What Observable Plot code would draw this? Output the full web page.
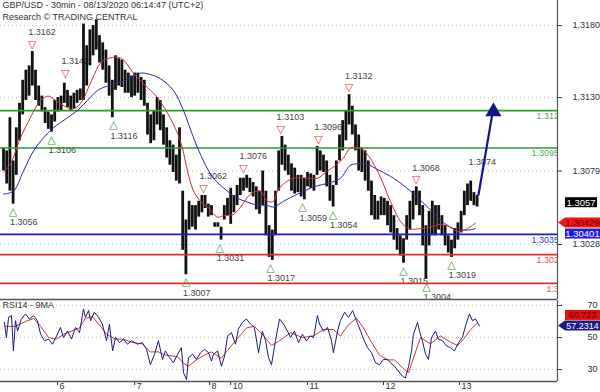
<!DOCTYPE html>
<html><head><meta charset="utf-8">
<script src="https://cdn.jsdelivr.net/npm/d3@7"></script>
<script src="https://cdn.jsdelivr.net/npm/@observablehq/plot@0.6"></script>
<style>
html,body{margin:0;padding:0;background:#fff;}
#chart{width:600px;height:392px;overflow:hidden;}
#chart svg{display:block;}
</style></head><body><div id="chart"></div>
<script>
// ---- price bars (hourly high / low, bar index from start) ----
const barHigh = [1.3095,1.3093,1.3116,1.3086,1.3109,1.3126,1.3142,1.3149,1.3152,1.3162,
1.3149,1.3138,1.3131,1.3123,1.3120,1.3118,1.3128,1.3130,1.3131,1.3140,
1.3135,1.3131,1.3133,1.3135,1.3136,1.3181,1.3166,1.3177,1.3180,1.3184,
1.3173,1.3168,1.3163,1.3152,1.3142,1.3159,1.3157,1.3156,1.3149,1.3147,
1.3145,1.3147,1.3147,1.3144,1.3142,1.3126,1.3118,1.3121,1.3130,1.3128,
1.3118,1.3109,1.3100,1.3097,1.3090,1.3109,1.3065,1.3045,1.3058,1.3055,
1.3055,1.3058,1.3062,1.3062,1.3056,1.3055,1.3043,1.3043,1.3040,1.3055,
1.3060,1.3067,1.3062,1.3069,1.3074,1.3074,1.3076,1.3074,1.3071,1.3068,
1.3065,1.3079,1.3065,1.3041,1.3038,1.3065,1.3093,1.3103,1.3097,1.3090,
1.3084,1.3081,1.3076,1.3076,1.3074,1.3078,1.3077,1.3076,1.3096,1.3093,
1.3090,1.3086,1.3076,1.3069,1.3086,1.3104,1.3114,1.3121,1.3132,1.3124,
1.3111,1.3104,1.3095,1.3093,1.3086,1.3072,1.3062,1.3058,1.3061,1.3060,
1.3058,1.3055,1.3048,1.3039,1.3034,1.3032,1.3048,1.3058,1.3065,1.3068,
1.3065,1.3055,1.3041,1.3051,1.3058,1.3055,1.3055,1.3048,1.3041,1.3034,
1.3031,1.3039,1.3043,1.3051,1.3065,1.3070,1.3072,1.3064,1.3062];
const barLow = [1.3079,1.3070,1.3065,1.3056,1.3076,1.3100,1.3118,1.3128,1.3131,1.3138,
1.3128,1.3124,1.3120,1.3112,1.3108,1.3106,1.3113,1.3120,1.3121,1.3126,
1.3123,1.3121,1.3122,1.3126,1.3128,1.3128,1.3138,1.3152,1.3159,1.3163,
1.3154,1.3149,1.3140,1.3131,1.3116,1.3135,1.3138,1.3137,1.3133,1.3133,
1.3130,1.3131,1.3133,1.3128,1.3124,1.3104,1.3098,1.3100,1.3111,1.3107,
1.3097,1.3088,1.3083,1.3078,1.3072,1.3070,1.3024,1.3007,1.3038,1.3040,
1.3038,1.3047,1.3050,1.3053,1.3047,1.3048,1.3040,1.3040,1.3031,1.3045,
1.3048,1.3042,1.3050,1.3055,1.3062,1.3065,1.3067,1.3064,1.3061,1.3052,
1.3049,1.3055,1.3034,1.3019,1.3017,1.3034,1.3065,1.3083,1.3079,1.3076,
1.3065,1.3063,1.3064,1.3061,1.3059,1.3068,1.3067,1.3065,1.3076,1.3079,
1.3078,1.3068,1.3058,1.3054,1.3069,1.3086,1.3093,1.3100,1.3111,1.3104,
1.3093,1.3079,1.3078,1.3072,1.3065,1.3048,1.3045,1.3045,1.3048,1.3048,
1.3041,1.3036,1.3031,1.3024,1.3020,1.3015,1.3031,1.3038,1.3045,1.3055,
1.3048,1.3027,1.3004,1.3027,1.3034,1.3034,1.3038,1.3034,1.3027,1.3022,
1.3019,1.3025,1.3031,1.3036,1.3048,1.3055,1.3058,1.3055,1.3054];

// ---- moving averages on price ----
const redMAIdx = [0,2.2,5.3,8.4,11.6,14.1,16.9,20,21.6,24.1,27.2,30.3,32.5,35.6,37.5,40.6,45,48.1,51.3,54.4,55.9,57.5,59.4,61.6,63.75,66.9,68.75,71.9,74.1,77.2,80.3,82.5,84.4,85.6,87.5,90.6,95,98.1,101.25,104.4,106.25,108.4,110.6,113.1,116.9,120.9,124.1,126.6,130.3,133.4,136.6,139.7,141.9,145,147.5];
const redMAVal = [1.3078,1.3084,1.3102,1.3116,1.3128,1.3131,1.3127,1.3123,1.3122,1.3126,1.3140,1.3154,1.3157,1.3158,1.3156,1.3147,1.3137,1.3130,1.3119,1.3105,1.3095,1.3079,1.3065,1.3058,1.3054,1.3047,1.3048,1.3049,1.3054,1.3063,1.3065,1.3058,1.3058,1.3065,1.3070,1.3074,1.3074,1.3074,1.3079,1.3084,1.3088,1.3095,1.3095,1.3092,1.3079,1.3058,1.3044,1.3039,1.3039,1.3040,1.3042,1.3040,1.3037,1.3039,1.3043];
const blueMAIdx = [0,3.1,6.25,9.4,12.5,15.6,20,23.1,26.25,29.4,32.5,35.6,38.1,42.8,45.9,49.1,53.1,56.25,59.4,62.5,65.6,70,73.1,75.6,78.1,82.5,84.4,87.5,91.9,96.9,102.2,105.3,108.4,110.6,113.1,117.8,121.9,127.2,132.5,136.6,140.6,145,147.5];
const blueMAVal = [1.3063,1.3065,1.3079,1.3093,1.3102,1.3109,1.3116,1.3121,1.3128,1.3135,1.3138,1.3140,1.3142,1.3147,1.3146,1.3143,1.3135,1.3121,1.3102,1.3086,1.3074,1.3065,1.3060,1.3058,1.3056,1.3055,1.3054,1.3058,1.3063,1.3068,1.3071,1.3074,1.3083,1.3084,1.3084,1.3079,1.3074,1.3065,1.3054,1.3045,1.3039,1.3038,1.3039];

// ---- pivots ----
const pivotHighIdx = [9,19.4,62.5,75,86.6,98.4,108,129];
const pivotHighVal = [1.3162,1.3142,1.3062,1.3076,1.3103,1.3096,1.3132,1.3068];
const pivotLowIdx = [3,15,34.4,57,67.6,83.4,93.4,103,125,132.2,140];
const pivotLowVal = [1.3056,1.3106,1.3116,1.3007,1.3031,1.3017,1.3059,1.3054,1.3015,1.3004,1.3019];
const targetIdx = [145.3];
const targetVal = [1.3074];

// ---- key levels ----
const levelVals = [1.3121,1.3095,1.3035,1.3021,1.3001];
const levelKinds = ["resistance","resistance","pivot","support","support"];

// ---- axis ----
const priceTicks = [1.3180,1.3130,1.3079,1.3028];
const lastPrice = 1.3057, maRedLast = 1.30429, maBlueLast = 1.30401;
const arrowFrom = [148.4, 1.3062], arrowTo = [153.1, 1.3123];

// ---- RSI ----
const rsiIdx = [0.3,0.9,1.6,2.5,3.1,3.75,4.4,5.6,6.9,8.1,9.4,10.6,11.6,12.8,14.1,15.3,16.6,17.8,18.75,20,21.25,22.5,23.75,25,25.6,26.6,27.2,28.4,29.7,30.9,32.2,33.1,34.1,35,36.25,37.5,38.75,40,41.9,43.4,44.7,45.9,47.2,48.4,49.7,50.6,51.9,53.1,54.4,55.6,56.25,57.2,57.8,59.1,60.3,61.6,62.8,64.1,65,65.6,66.9,68.1,69.1,70,71.25,72.5,73.4,74.7,75.9,77.2,78.4,79.7,80.9,81.9,82.8,83.75,85,86.25,87.5,88.75,89.7,90.9,92.2,93.4,94.7,95.9,96.9,98.1,98.75,100,101.25,102.5,103.1,104.4,105.3,106.6,107.8,109.1,110.3,111.6,112.5,113.75,115,116.25,117.5,118.75,120,120.9,122.2,123.4,124.7,125.6,126.6,127.5,128.1,129.4,130,130.9,131.9,132.8,133.75,135,135.9,137.2,138.4,139.7,140.9,142.2,143.4,144.4,145.6,146.6,147.5,148.75];
const rsiVal = [59.5,50,62.6,63.7,41.6,60.5,54,61.6,64.7,61.6,63.7,60.5,52,48,49,45.8,51,56.3,50,54,49,56.3,53,67.9,62.6,66.8,60.5,65.8,62.6,58.4,48,58.4,41.6,50,46.8,49,45.8,48,45.8,46.8,42.6,33,39.5,48,36.3,41.6,37.4,34.2,39.5,43.7,28,23.7,37.4,39.5,36.3,40.5,42.6,40.5,35.3,39.5,41.6,32,38.4,51,53,45.8,55.3,59.5,61.6,58.4,56.3,40.5,54,48,37.4,33,48,61.6,58.4,54,50,54,46.8,52,48,51,50,63.7,58.4,54,56.3,48,40.5,54,60.5,65.8,62.6,66.8,60.5,54,49,43.7,40.5,34.2,33,36.3,36.3,34.2,32,29,25.8,24.7,32,41.6,52,59.5,54,48,39.5,36.3,50,54,49,48,44.7,43.7,41.6,46.8,50,57.4,64.7,60.5,61.6,57.2];
const rsiMAIdx = [0.3,3.75,6.9,9.4,11.6,14.1,16.6,18.75,21.25,23.75,25.6,27.8,30.3,32.2,35,37.5,40,43.4,45.9,48.4,50.6,54.4,56.25,57.8,60.3,62.8,65,68.1,70,72.5,75.9,78.4,80.9,83.75,86.25,89.7,93.4,96.9,100,103.1,105.3,107.8,110.3,112.5,115,117.5,120,122.2,124.7,126.6,128.1,130.3,133.4,136.6,139.7,141.9,143.75,146,148.1];
const rsiMAVal = [57,57,60,62,57,50,49,52,54,56,62,63,57,52,49,49,47,46,41,41,39,38,34,32,36,39,41,37,42,48,56,57,52,45,48,53,50,51,55,55,51,58,62,56,47,39,36,36,31,28,37,50,46,51,47,45,49,55,59];
const rsiTicks = [70,50,30];
const rsiLast = 57.2314, rsiMALast = 60.723;

// ---- days ----
const dayIdx = [16.9,41,64.4,71,95,118.75,142.5];
const dayLabels = ["6","7","8","10","11","12","13"];

// ================= build =================
const xDomain = [-0.9375, 173.125];
const yDomain = [1.29898, 1.31974];
const rsiDomain = [22.5, 73.125];
const FONT = "'Liberation Sans', Arial, sans-serif";
const NAVY = "#15158a";

const bars = barHigh.map((h, k) => ({i: k, high: h, low: barLow[k]}));
const redMA = redMAIdx.map((i, k) => ({i, v: redMAVal[k]}));
const blueMA = blueMAIdx.map((i, k) => ({i, v: blueMAVal[k]}));
const pivHigh = pivotHighIdx.map((i, k) => ({i, v: pivotHighVal[k]}));
const pivLow = pivotLowIdx.map((i, k) => ({i, v: pivotLowVal[k]}));
const target = targetIdx.map((i, k) => ({i, v: targetVal[k]}));
const levels = levelVals.map((v, k) => ({v, kind: levelKinds[k]}));
const rsi = rsiIdx.map((i, k) => ({i, v: rsiVal[k]}));
const rsiMA = rsiMAIdx.map((i, k) => ({i, v: rsiMAVal[k]}));
const days = dayIdx.map((i, k) => ({i, label: dayLabels[k]}));
const arrowData = [{x1: arrowFrom[0], y1: arrowFrom[1], x2: arrowTo[0], y2: arrowTo[1]}];

const lineColor = {resistance: "#2e9a2e", pivot: "#1c1cd0", support: "#e42a2a"};
const labelColor = {resistance: "#55a855", pivot: "#3a3ad0", support: "#e05050"};
const labelShift = [-21, -26, -26, -21, -11];

const levelLabelMarks = levels.map((d, k) => Plot.text([d], {
  y: "v", text: x => x.v.toFixed(4), frameAnchor: "right", dx: labelShift[k],
  textAnchor: "start", lineAnchor: "top", dy: 2, fill: labelColor[d.kind], clip: true, fontSize: 9
}));

const main = Plot.plot({
  width: 600, height: 300, marginLeft: 0, marginRight: 43, marginTop: 0, marginBottom: 1,
  style: {fontFamily: FONT, fontSize: "9px", color: "#333", background: "#fff", overflow: "visible"},
  x: {domain: xDomain, axis: null},
  y: {domain: yDomain, axis: "right", ticks: priceTicks, tickFormat: d => d.toFixed(4), tickSize: 4, tickPadding: 11, label: null},
  marks: [
    Plot.ruleY(priceTicks, {stroke: "#bbb", strokeDasharray: "1,3"}),
    Plot.text(pivHigh, {x: "i", y: "v", text: d => d.v.toFixed(4), dx: -4, dy: -19, textAnchor: "start", fill: "#444", fontSize: 9}),
    Plot.text(pivLow, {x: "i", y: "v", text: d => d.v.toFixed(4), dx: -3, dy: 18, textAnchor: "start", fill: "#444", fontSize: 9}),
    Plot.text(target, {x: "i", y: "v", text: d => d.v.toFixed(4), dx: 0, dy: -16, textAnchor: "start", fill: "#444", fontSize: 9}),
    Plot.ruleX(bars, {x: "i", y1: "low", y2: "high", stroke: "#111", strokeWidth: 2.8}),
    Plot.ruleY(levels, {y: "v", stroke: d => lineColor[d.kind], strokeWidth: 1.7}),
    ...levelLabelMarks,
    Plot.line(blueMA, {x: "i", y: "v", stroke: "#2c2ca0", strokeWidth: 1, curve: "catmull-rom"}),
    Plot.line(redMA, {x: "i", y: "v", stroke: "#cc3030", strokeWidth: 1, curve: "catmull-rom"}),
    Plot.text(pivHigh, {x: "i", y: "v", text: () => "\u25BD", dy: -7, fill: "#e03c3c", fontSize: 11, fontFamily: "DejaVu Sans"}),
    Plot.text(pivLow, {x: "i", y: "v", text: () => "\u25B3", dy: 7, fill: "#2e9a2e", fontSize: 11, fontFamily: "DejaVu Sans"}),
    Plot.link(arrowData, {x1: "x1", y1: "y1", x2: "x2", y2: "y2", stroke: NAVY, strokeWidth: 2.2}),
    Plot.dot(arrowData, {x: "x2", y: "y2", symbol: "triangle", r: 5, fill: NAVY, stroke: NAVY, dy: 4}),
    Plot.text(["GBP/USD - 30min - 08/13/2020 06:14:47 (UTC+2)"], {text: d => d, frameAnchor: "top-left", dx: 2, dy: 1, lineAnchor: "top", textAnchor: "start", fill: "#333", fontSize: 9}),
    Plot.text(["Research \u00A9 TRADING CENTRAL"], {text: d => d, frameAnchor: "top-left", dx: 2, dy: 13, lineAnchor: "top", textAnchor: "start", fill: "#333", fontSize: 9}),
    Plot.ruleY([yDomain[0]], {stroke: "#555", strokeWidth: 1.5}),
    Plot.ruleX([xDomain[1]], {stroke: "#555", strokeWidth: 1.2})
  ]
});

const rsiPlot = Plot.plot({
  width: 600, height: 92, marginLeft: 0, marginRight: 43, marginTop: 0, marginBottom: 11,
  style: {fontFamily: FONT, fontSize: "9px", color: "#333", background: "#fff", overflow: "visible"},
  x: {domain: xDomain, axis: "bottom", ticks: dayIdx, tickFormat: () => "", tickSize: 4, tickPadding: 0, label: null},
  y: {domain: rsiDomain, axis: "right", ticks: rsiTicks, tickSize: 4, tickPadding: 26, label: null},
  marks: [
    Plot.ruleY(rsiTicks, {stroke: "#bbb", strokeDasharray: "1,3"}),
    Plot.line(rsiMA, {x: "i", y: "v", stroke: "#c83a3a", strokeWidth: 1}),
    Plot.line(rsi, {x: "i", y: "v", stroke: "#1c1c7c", strokeWidth: 1}),
    Plot.text(["RSI14 - 9MA"], {text: d => d, frameAnchor: "top-left", dx: 2, dy: 1, lineAnchor: "top", textAnchor: "start", fill: "#333", fontSize: 9}),
    Plot.text(days, {x: "i", text: "label", frameAnchor: "bottom", dy: 7, dx: 2, textAnchor: "start", fill: "#333", fontSize: 9}),
    Plot.ruleY([rsiDomain[0]], {stroke: "#555", strokeWidth: 1.5}),
    Plot.ruleX([xDomain[1]], {stroke: "#555", strokeWidth: 1.2})
  ]
});

function svgOf(el) { return el.tagName.toLowerCase() === "svg" ? el : el.querySelector("svg"); }

function addBoxes(plotEl, boxes, dir, gap, fontSize) {
  const svg = d3.select(svgOf(plotEl));
  const ys = plotEl.scale("y"), xs = plotEl.scale("x");
  const yS = d3.scaleLinear(ys.domain, ys.range);
  const xS = d3.scaleLinear(xs.domain, xs.range);
  const xr = xS(xDomain[1]);
  const items = boxes.map(b => ({...b, y: yS(b.value)})).sort((a, b) => a.y - b.y);
  if (dir === "down") {
    for (let k = 1; k < items.length; k++) if (items[k].y < items[k-1].y + gap) items[k].y = items[k-1].y + gap;
  } else {
    for (let k = items.length - 2; k >= 0; k--) if (items[k].y > items[k+1].y - gap) items[k].y = items[k+1].y - gap;
  }
  const g = svg.append("g");
  for (const b of items) {
    const h = 5, x0 = xr + 8, x1 = b.narrow ? xr + 40 : 600;
    if (b.pointed) {
      g.append("polygon").attr("points", [[xr + 1, b.y], [x0, b.y - h], [x1, b.y - h], [x1, b.y + h], [x0, b.y + h]].map(p => p.join(",")).join(" ")).attr("fill", b.fill);
    } else {
      g.append("rect").attr("x", x0).attr("y", b.y - h).attr("width", x1 - x0).attr("height", 2 * h).attr("fill", b.fill);
    }
    g.append("text").attr("x", (x0 + x1) / 2).attr("y", b.y).attr("dy", "0.35em").attr("text-anchor", "middle")
      .attr("fill", b.color).attr("font-size", fontSize).attr("font-family", FONT).text(b.text);
  }
}

addBoxes(main, [
  {value: lastPrice, text: lastPrice.toFixed(4), fill: "#000", color: "#fff", narrow: true},
  {value: maRedLast, text: maRedLast.toFixed(5), fill: "#f01414", color: "#700000", pointed: true},
  {value: maBlueLast, text: maBlueLast.toFixed(5), fill: "#1e1ee0", color: "#fff"}
], "down", 11, 9.5);
addBoxes(rsiPlot, [
  {value: rsiMALast, text: rsiMALast.toFixed(3), fill: "#e01010", color: "#700000"},
  {value: rsiLast, text: rsiLast.toFixed(4), fill: "#1a1a80", color: "#fff", pointed: true}
], "up", 10.5, 9);

const chart = document.getElementById("chart");
chart.appendChild(main);
chart.appendChild(rsiPlot);
</script></body></html>
